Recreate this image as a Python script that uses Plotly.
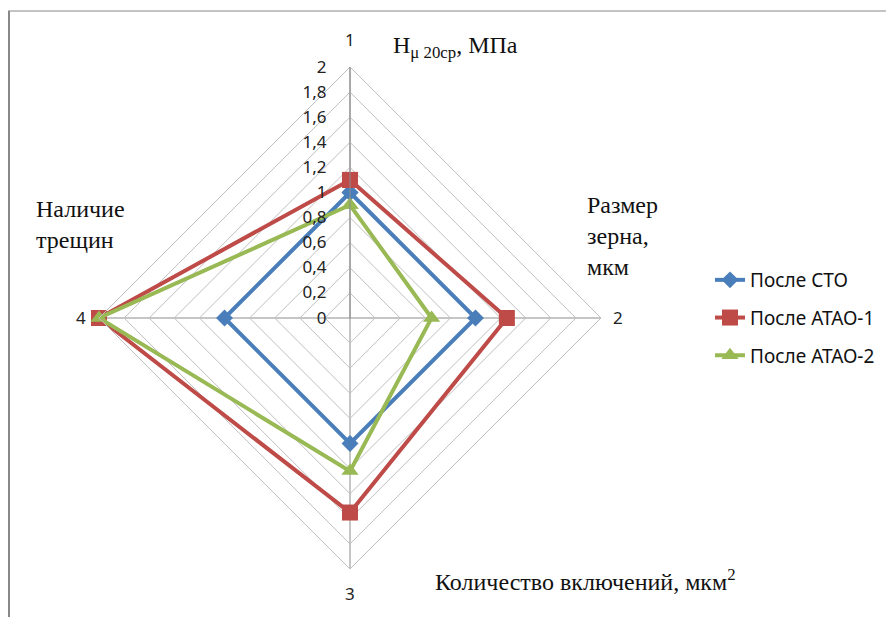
import plotly.graph_objects as go

# Axis categories (spokes) and series values
categories = ["1", "2", "3", "4"]
series_names = ["После СТО", "После АТАО-1", "После АТАО-2"]
sto = [1.0, 1.0, 1.0, 1.0]
atao1 = [1.1, 1.25, 1.55, 2.0]
atao2 = [0.9, 0.65, 1.22, 2.0]
radial_ticks = [0, 0.2, 0.4, 0.6, 0.8, 1.0, 1.2, 1.4, 1.6, 1.8, 2.0]

W, H = 887, 617
colors = ["#4A7EBB", "#BE4B48", "#98B954"]
symbols = ["diamond", "square", "triangle-up"]
msizes = [13, 16, 15]
sans = "Noto Sans, Liberation Sans, sans-serif"
serif = "Liberation Serif, Times New Roman, serif"

fig = go.Figure()
for i, (name, vals) in enumerate(zip(series_names, [sto, atao1, atao2])):
    fig.add_trace(go.Scatterpolar(
        r=vals + vals[:1],
        theta=categories + categories[:1],
        mode="lines+markers",
        name=name,
        legendgroup=name,
        line=dict(color=colors[i], width=4),
        marker=dict(symbol=symbols[i], size=msizes[i], color=colors[i]),
    ))

cx, cy, rad = 350, 318, 251
fig.update_layout(
    width=W, height=H,
    margin=dict(l=0, r=0, t=0, b=0),
    paper_bgcolor="white",
    plot_bgcolor="white",
    separators=", ",
    font=dict(family=sans, size=16, color="#222"),
    polar=dict(
        domain=dict(x=[(cx - rad) / W, (cx + rad) / W],
                    y=[(H - cy - rad) / H, (H - cy + rad) / H]),
        gridshape="linear",
        bgcolor="white",
        angularaxis=dict(
            direction="clockwise", rotation=90,
            categoryorder="array", categoryarray=categories,
            showline=True, linecolor="#BFBFBF", linewidth=1,
            gridcolor="#8C8C8C", gridwidth=1,
            ticks="", showticklabels=False,
        ),
        radialaxis=dict(
            range=[0, 2], tickvals=radial_ticks,
            tickformat=".1~f",
            angle=90, tickangle=90,
            showline=True, linecolor="#8C8C8C", linewidth=1,
            gridcolor="#BFBFBF", gridwidth=1,
            # invisible ticks keep the labels clear of the axis line
            ticks="outside", ticklen=17, tickcolor="rgba(0,0,0,0)",
            tickfont=dict(size=17, color="#222"),
            side="counterclockwise",
        ),
    ),
    legend=dict(
        x=710 / W, y=1 - 261 / H, xanchor="left", yanchor="top",
        font=dict(family=sans, size=19, color="#111"),
        tracegroupgap=10,
        bgcolor="rgba(0,0,0,0)",
    ),
)

# Spoke labels placed just outside the outer polygon
spoke_labels = [(cx, cy - rad - 27), (cx + rad + 17, cy), (cx, cy + rad + 24), (cx - rad - 18, cy)]
for lab, (x, y) in zip(categories, spoke_labels):
    fig.add_annotation(
        x=x / W, y=1 - y / H, xref="paper", yref="paper",
        xanchor="center", yanchor="middle", text=lab, showarrow=False,
        font=dict(family=sans, size=17, color="#222"),
    )

annots = [
    (391, 47, "H<sub>μ 20ср</sub>, МПа"),
    (585, 236, "Размер<br>зерна,<br>мкм"),
    (34, 224, "Наличие<br>трещин"),
    (433, 580, "Количество включений, мкм<sup>2</sup>"),
]
for x, y, text in annots:
    fig.add_annotation(
        x=x / W, y=1 - y / H, xref="paper", yref="paper",
        xanchor="left", yanchor="middle", align="left",
        text=text, showarrow=False,
        font=dict(family=serif, size=24, color="#111"),
    )

# Frame lines along the top and left edges
fig.add_shape(type="line", xref="paper", yref="paper",
              x0=8 / W, x1=886 / W, y0=1 - 11 / H, y1=1 - 11 / H,
              line=dict(color="#888888", width=1))
fig.add_shape(type="line", xref="paper", yref="paper",
              x0=9 / W, x1=9 / W, y0=1 - 11 / H, y1=0,
              line=dict(color="#888888", width=2))

fig.write_html("out.html")
